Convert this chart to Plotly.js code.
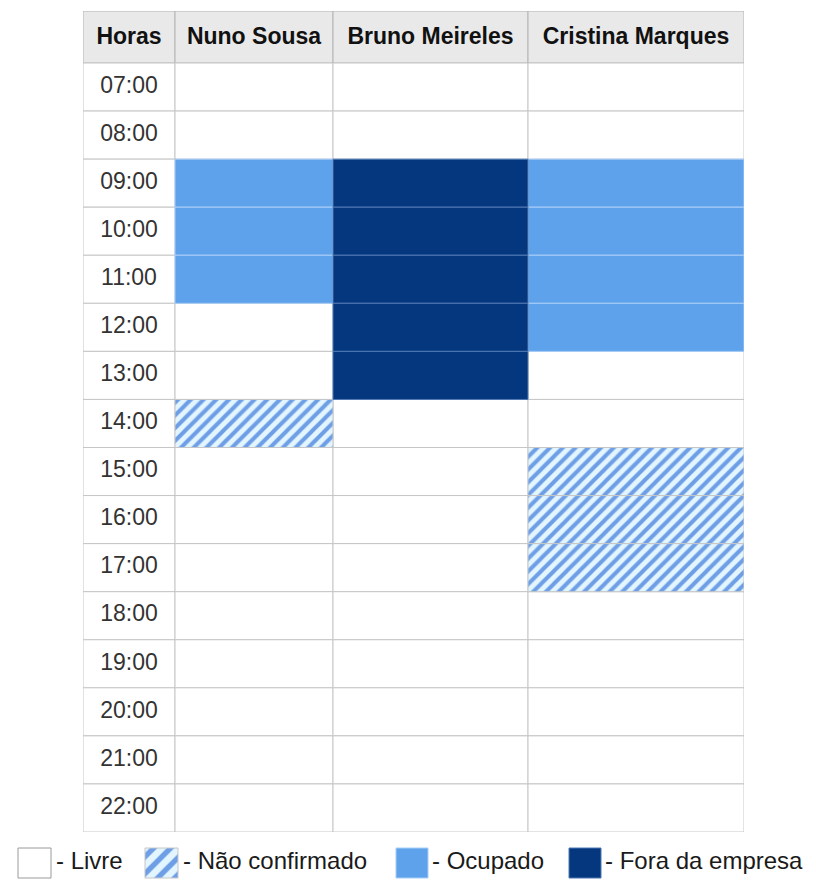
<!DOCTYPE html>
<html><head><meta charset="utf-8">
<script src="https://cdn.plot.ly/plotly-3.0.1.min.js"></script>
<style>html,body{margin:0;padding:0;background:#fff}#chart{width:816px;height:884px}</style>
</head><body><div id="chart"></div>
<script>
// ---- data ----
const hours = ['07:00','08:00','09:00','10:00','11:00','12:00','13:00','14:00',
               '15:00','16:00','17:00','18:00','19:00','20:00','21:00','22:00'];
const headers = ['Horas','Nuno Sousa','Bruno Meireles','Cristina Marques'];
// L = Livre, N = Não confirmado, O = Ocupado, F = Fora da empresa
const nunoSousa       = ['L','L','O','O','O','L','L','N','L','L','L','L','L','L','L','L'];
const brunoMeireles   = ['L','L','F','F','F','F','F','L','L','L','L','L','L','L','L','L'];
const cristinaMarques = ['L','L','O','O','O','O','L','L','N','N','N','L','L','L','L','L'];
const schedules = [nunoSousa, brunoMeireles, cristinaMarques];
const statusKeys = ['L','N','O','F'];
const statusLabels = ['- Livre','- Não confirmado','- Ocupado','- Fora da empresa'];

// ---- layout constants ----
const W = 816, H = 884;
const colWidths = [92,158,195,216];
const tableLeft = 83, tableTop = 11, tableBottom = 832;
const headerH = 52, rowH = (tableBottom - tableTop - headerH) / hours.length;
const colStarts = []; { let s = 0; colWidths.forEach(w => { colStarts.push(s); s += w; }); }
const tableW = colStarts[colStarts.length-1] + colWidths[colWidths.length-1];
const headerUnits = headerH / rowH;
const headerY = -0.5 - headerUnits/2;

const styles = {
  L: {fill:'#ffffff', line:'#c6c6c6'},
  N: {fill:'#e3f5ff', line:'#c6c6c6', pattern:{shape:'/', bgcolor:'#e3f5ff', fgcolor:'#6e9fe6', size:9, solidity:0.45}},
  O: {fill:'#5ea2ec', line:'#a8cdf6'},
  F: {fill:'#05377f', line:'#4f78b3'}
};
// legend geometry (pixels in the bottom strip)
const legBox = [{x:18,w:33},{x:145,w:33},{x:396,w:32},{x:569,w:32}];
const legText = [56,183,432,605];
const legY = 31, legH = 30;

const traces = [];

// header row
traces.push({
  type:'bar', orientation:'h', xaxis:'x', yaxis:'y',
  y: headers.map(() => headerY), x: colWidths, base: colStarts,
  width: headers.map(() => headerUnits),
  marker:{color:'#e9e9e9', line:{color:'#b4b4b4', width:1}},
  showlegend:false, hoverinfo:'skip'
});
// hours column
traces.push({
  type:'bar', orientation:'h', xaxis:'x', yaxis:'y',
  y: hours.map((h,i) => i), x: hours.map(() => colWidths[0]), base: hours.map(() => 0),
  width: hours.map(() => 1),
  marker:{color:'#ffffff', line:{color:'#c6c6c6', width:1}},
  showlegend:false, hoverinfo:'skip'
});
// schedule cells per status
statusKeys.forEach(k => {
  const ys = [], xs = [], bs = [];
  schedules.forEach((sch, p) => {
    sch.forEach((s, i) => {
      if (s === k) { ys.push(i); xs.push(colWidths[p+1]); bs.push(colStarts[p+1]); }
    });
  });
  const st = styles[k];
  const marker = {color: st.fill, line:{color: st.line, width:1}};
  if (st.pattern) marker.pattern = st.pattern;
  traces.push({
    type:'bar', orientation:'h', xaxis:'x', yaxis:'y',
    y: ys, x: xs, base: bs, width: ys.map(() => 1),
    marker, showlegend:false, hoverinfo:'skip'
  });
});
// header labels
traces.push({
  type:'scatter', mode:'text', xaxis:'x', yaxis:'y',
  x: colStarts.map((s,i) => s + colWidths[i]/2), y: headers.map(() => headerY + 0.02),
  text: headers, textposition:'middle center',
  textfont:{family:'Liberation Sans, Arial, sans-serif', size:23, color:'#111', weight:'bold'},
  showlegend:false, hoverinfo:'skip'
});
// hour labels
traces.push({
  type:'scatter', mode:'text', xaxis:'x', yaxis:'y',
  x: hours.map(() => colWidths[0]/2), y: hours.map((h,i) => i),
  text: hours, textposition:'middle center',
  textfont:{family:'Liberation Sans, Arial, sans-serif', size:23, color:'#333'},
  showlegend:false, hoverinfo:'skip'
});
// legend swatches
statusKeys.forEach((k, j) => {
  const st = styles[k];
  const marker = {color: st.fill, line:{color: k==='L' ? '#9a9a9a' : st.line, width:1}};
  if (st.pattern) marker.pattern = Object.assign({}, st.pattern, {size:12});
  traces.push({
    type:'bar', orientation:'h', xaxis:'x2', yaxis:'y2',
    y:[legY], x:[legBox[j].w], base:[legBox[j].x], width:[legH],
    marker, showlegend:false, hoverinfo:'skip'
  });
});
// legend labels
traces.push({
  type:'scatter', mode:'text', xaxis:'x2', yaxis:'y2',
  x: legText, y: statusLabels.map(() => legY),
  text: statusLabels, textposition:'middle right',
  textfont:{family:'Liberation Sans, Arial, sans-serif', size:24, color:'#1a1a1a'},
  showlegend:false, hoverinfo:'skip'
});

const hidden = {showgrid:false, zeroline:false, showticklabels:false, showline:false, ticks:'', fixedrange:true};
const layout = {
  width: W, height: H,
  margin:{l:0, r:0, t:0, b:0, pad:0},
  paper_bgcolor:'#ffffff', plot_bgcolor:'rgba(0,0,0,0)',
  barmode:'overlay', bargap:0, showlegend:false, hovermode:false,
  xaxis: Object.assign({domain:[tableLeft/W, (tableLeft+tableW)/W], range:[0, tableW], autorange:false}, hidden),
  yaxis: Object.assign({domain:[1 - tableBottom/H, 1 - tableTop/H], range:[hours.length-0.5, -0.5-headerUnits], autorange:false}, hidden),
  xaxis2: Object.assign({domain:[0,1], range:[0, W], autorange:false, anchor:'y2'}, hidden),
  yaxis2: Object.assign({domain:[0, (H - tableBottom)/H], range:[H - tableBottom, 0], autorange:false, anchor:'x2'}, hidden)
};
Plotly.newPlot('chart', traces, layout, {staticPlot:true, displayModeBar:false});
</script></body></html>
